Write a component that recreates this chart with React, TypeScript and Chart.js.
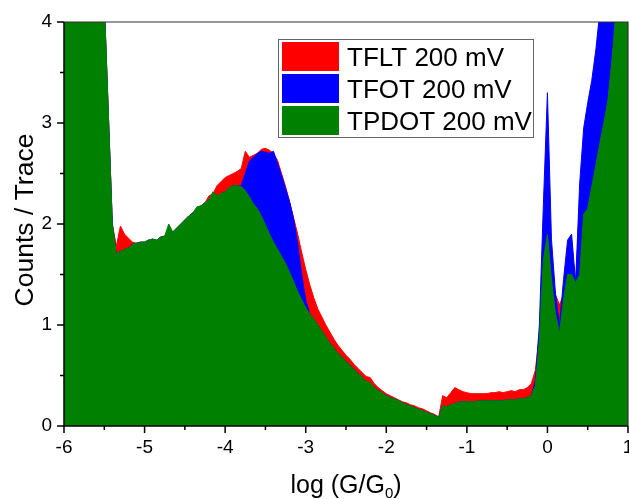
import React, { useEffect, useRef } from 'react';
import { Chart, registerables } from 'chart.js';

Chart.register(...registerables);

// log(G/G0) bin positions, -6 .. 1 in steps of 0.05
const logG: number[] = Array.from({ length: 141 }, (_, i) => Math.round((-6 + i * 0.05) * 100) / 100);

const tflt: number[] = [
  6, 6, 6, 6, 6, 6, 6, 6, 6, 6,
  4.2, 3.1, 2.0, 1.78, 1.98, 1.9, 1.86, 1.82, 1.81, 1.82,
  1.82, 1.84, 1.85, 1.84, 1.87, 1.88, 1.9, 1.92, 1.96, 2.0,
  2.04, 2.08, 2.11, 2.15, 2.18, 2.21, 2.28, 2.3, 2.38, 2.42,
  2.46, 2.48, 2.5, 2.52, 2.55, 2.72, 2.66, 2.68, 2.7, 2.74,
  2.75, 2.73, 2.7, 2.63, 2.5, 2.37, 2.22, 2.06, 1.9, 1.72,
  1.55, 1.4, 1.27, 1.16, 1.08, 1.0, 0.93, 0.86, 0.8, 0.75,
  0.7, 0.66, 0.61, 0.57, 0.53, 0.49, 0.48, 0.42, 0.38, 0.35,
  0.32, 0.3, 0.28, 0.26, 0.24, 0.23, 0.21, 0.2, 0.18, 0.17,
  0.15, 0.13, 0.115, 0.09, 0.3, 0.28, 0.33, 0.38, 0.36, 0.34,
  0.33, 0.32, 0.32, 0.32, 0.32, 0.32, 0.33, 0.33, 0.34, 0.33,
  0.34, 0.35, 0.34, 0.36, 0.36, 0.38, 0.42, 0.55, 0.9, 1.7,
  2.0, 1.5, 1.3, 1.2, 1.3, 1.7, 1.8, 1.4, 2.2, 2.8,
  3.1, 3.3, 3.6, 4.0, 4.4, 4.8, 5, 5, 5, 5,
  5,
];

const tfot: number[] = [
  6, 6, 6, 6, 6, 6, 6, 6, 6, 6,
  4.2, 3.1, 2.0, 1.7, 1.73, 1.75, 1.76, 1.8, 1.81, 1.82,
  1.82, 1.84, 1.85, 1.84, 1.87, 1.88, 1.9, 1.92, 1.96, 2.0,
  2.04, 2.08, 2.11, 2.15, 2.18, 2.21, 2.24, 2.27, 2.28, 2.3,
  2.32, 2.36, 2.38, 2.38, 2.38, 2.5, 2.62, 2.66, 2.7, 2.72,
  2.71, 2.7, 2.72, 2.6, 2.48, 2.35, 2.22, 2.05, 1.8, 1.5,
  1.25, 1.11, 1.06, 1.0, 0.94, 0.88, 0.82, 0.77, 0.72, 0.68,
  0.64, 0.6, 0.56, 0.52, 0.48, 0.44, 0.41, 0.38, 0.35, 0.33,
  0.3, 0.28, 0.27, 0.25, 0.23, 0.21, 0.2, 0.18, 0.165, 0.15,
  0.135, 0.12, 0.105, 0.085, 0.2, 0.19, 0.21, 0.22, 0.24, 0.24,
  0.24, 0.24, 0.24, 0.25, 0.25, 0.25, 0.25, 0.25, 0.25, 0.25,
  0.26, 0.26, 0.26, 0.27, 0.27, 0.28, 0.3, 0.45, 1.0, 2.2,
  3.3, 1.85, 1.31, 1.0, 1.45, 1.84, 1.9, 1.42, 2.4, 2.95,
  3.2, 3.42, 3.72, 4.1, 4.5, 4.8, 5, 5, 5, 5,
  5,
];

const tpdot: number[] = [
  6, 6, 6, 6, 6, 6, 6, 6, 6, 6,
  4.2, 3.1, 2.0, 1.7, 1.73, 1.75, 1.76, 1.8, 1.81, 1.82,
  1.82, 1.84, 1.85, 1.84, 1.87, 1.88, 2.0, 1.92, 1.96, 2.0,
  2.04, 2.08, 2.11, 2.17, 2.18, 2.21, 2.24, 2.32, 2.28, 2.3,
  2.32, 2.36, 2.38, 2.38, 2.37, 2.33, 2.27, 2.2, 2.15, 2.08,
  1.99, 1.9, 1.82, 1.75, 1.68, 1.61, 1.52, 1.43, 1.33, 1.25,
  1.17, 1.11, 1.06, 1.0, 0.94, 0.88, 0.82, 0.77, 0.72, 0.68,
  0.64, 0.6, 0.56, 0.52, 0.48, 0.44, 0.43, 0.38, 0.35, 0.33,
  0.3, 0.28, 0.27, 0.25, 0.23, 0.21, 0.2, 0.18, 0.165, 0.15,
  0.135, 0.12, 0.105, 0.085, 0.2, 0.19, 0.21, 0.22, 0.24, 0.24,
  0.24, 0.24, 0.24, 0.25, 0.25, 0.25, 0.25, 0.25, 0.25, 0.25,
  0.26, 0.26, 0.26, 0.27, 0.27, 0.28, 0.3, 0.4, 0.85, 1.65,
  1.9, 1.45, 1.11, 0.92, 1.25, 1.5, 1.5, 1.42, 1.5, 2.1,
  2.15, 2.37, 2.58, 2.8, 3.0, 3.22, 3.62, 4.1, 4.6, 5,
  5.3,
];

const seriesLabels = ['TFLT 200 mV', 'TFOT 200 mV', 'TPDOT 200 mV'];
const seriesColors = ['#ff0000', '#0000ff', '#008000'];
const xTitleMain = 'log (G/G';
const xTitleSub = '0';
const xTitleEnd = ')';
const yTitle = 'Counts / Trace';

const FONT = '"Liberation Sans", Arial, sans-serif';

const decorPlugin = {
  id: 'decor',
  afterDraw(chart: any) {
    const { ctx, chartArea: a, scales } = chart;
    const x = scales.x;
    const y = scales.y;
    ctx.save();

    // top & right frame
    ctx.strokeStyle = '#333';
    ctx.lineWidth = 1.2;
    ctx.beginPath();
    ctx.moveTo(a.left, a.top);
    ctx.lineTo(a.right, a.top);
    ctx.lineTo(a.right, a.bottom);
    ctx.stroke();

    // left & bottom axes
    ctx.strokeStyle = '#000';
    ctx.lineWidth = 1.5;
    ctx.beginPath();
    ctx.moveTo(a.left, a.top);
    ctx.lineTo(a.left, a.bottom);
    ctx.lineTo(a.right, a.bottom);
    ctx.stroke();

    // ticks
    const xt = x.ticks.map((t: any) => t.value);
    const yt = y.ticks.map((t: any) => t.value);
    ctx.beginPath();
    xt.forEach((v: number, i: number) => {
      const px = x.getPixelForValue(v);
      ctx.moveTo(px, a.bottom);
      ctx.lineTo(px, a.bottom + 7);
      if (i < xt.length - 1) {
        const pm = x.getPixelForValue((v + xt[i + 1]) / 2);
        ctx.moveTo(pm, a.bottom);
        ctx.lineTo(pm, a.bottom + 4);
      }
    });
    yt.forEach((v: number, i: number) => {
      const py = y.getPixelForValue(v);
      ctx.moveTo(a.left, py);
      ctx.lineTo(a.left - 7, py);
      if (i < yt.length - 1) {
        const pm = y.getPixelForValue((v + yt[i + 1]) / 2);
        ctx.moveTo(a.left, pm);
        ctx.lineTo(a.left - 4, pm);
      }
    });
    ctx.stroke();

    // y title
    ctx.fillStyle = '#000';
    ctx.font = `26.5px ${FONT}`;
    ctx.textAlign = 'center';
    ctx.textBaseline = 'alphabetic';
    ctx.save();
    ctx.translate(33, (a.top + a.bottom) / 2 - 4);
    ctx.rotate(-Math.PI / 2);
    ctx.fillText(yTitle, 0, 0);
    ctx.restore();

    // x title with subscript
    const mainFont = `25px ${FONT}`;
    const subFont = `15px ${FONT}`;
    ctx.font = mainFont;
    const w1 = ctx.measureText(xTitleMain).width;
    const w3 = ctx.measureText(xTitleEnd).width;
    ctx.font = subFont;
    const w2 = ctx.measureText(xTitleSub).width;
    const total = w1 + w2 + w3;
    let cx = (a.left + a.right) / 2 - total / 2;
    const base = 493;
    ctx.textAlign = 'left';
    ctx.font = mainFont;
    ctx.fillText(xTitleMain, cx, base);
    cx += w1;
    ctx.font = subFont;
    ctx.fillText(xTitleSub, cx, base + 5);
    cx += w2;
    ctx.font = mainFont;
    ctx.fillText(xTitleEnd, cx, base);

    // legend
    ctx.strokeStyle = '#666';
    ctx.lineWidth = 1;
    ctx.strokeRect(278.5, 39.5, 255, 98);
    ctx.font = `26px ${FONT}`;
    ctx.textAlign = 'left';
    ctx.textBaseline = 'alphabetic';
    chart.data.datasets.forEach((ds: any, i: number) => {
      const top = 42 + i * 32;
      ctx.fillStyle = ds.backgroundColor;
      ctx.fillRect(282, top, 57, 29);
      ctx.fillStyle = '#000';
      ctx.fillText(ds.label, 347, top + 24);
    });

    ctx.restore();
  },
};

export default function App() {
  const ref = useRef<HTMLCanvasElement | null>(null);

  useEffect(() => {
    if (!ref.current) return;
    const series = [tflt, tfot, tpdot];
    const chart = new Chart(ref.current, {
      type: 'line',
      data: {
        datasets: series.map((vals, i) => ({
          label: seriesLabels[i],
          data: logG.map((xv, j) => ({ x: xv, y: vals[j] })),
          backgroundColor: seriesColors[i],
          borderColor: seriesColors[i],
          borderWidth: 1,
          pointRadius: 0,
          tension: 0,
          fill: 'origin',
          order: 2 - i,
        })),
      },
      options: {
        responsive: false,
        animation: false,
        events: [],
        layout: { padding: { top: 22, right: 1, left: 0, bottom: 0 } },
        plugins: {
          legend: { display: false },
          tooltip: { enabled: false },
        },
        scales: {
          x: {
            type: 'linear',
            min: -6,
            max: 1,
            grid: { display: false, drawTicks: false },
            border: { display: false },
            ticks: {
              stepSize: 1,
              color: '#000',
              padding: 10,
              font: { family: FONT, size: 19 },
              maxRotation: 0,
            },
            afterFit: (s: any) => {
              s.height = 73;
              s.paddingLeft = 0;
              s.paddingRight = 0;
            },
          },
          y: {
            min: 0,
            max: 4,
            grid: { display: false, drawTicks: false },
            border: { display: false },
            ticks: {
              stepSize: 1,
              color: '#000',
              padding: 12,
              font: { family: FONT, size: 19 },
            },
            afterFit: (s: any) => {
              s.width = 64;
              s.paddingTop = 0;
              s.paddingBottom = 0;
            },
          },
        },
      },
      plugins: [decorPlugin],
    });
    return () => chart.destroy();
  }, []);

  return (
    <div style={{ position: 'absolute', left: 0, top: 0, width: 629, height: 499, background: '#fff' }}>
      <canvas ref={ref} width={629} height={499} style={{ display: 'block' }} />
    </div>
  );
}
